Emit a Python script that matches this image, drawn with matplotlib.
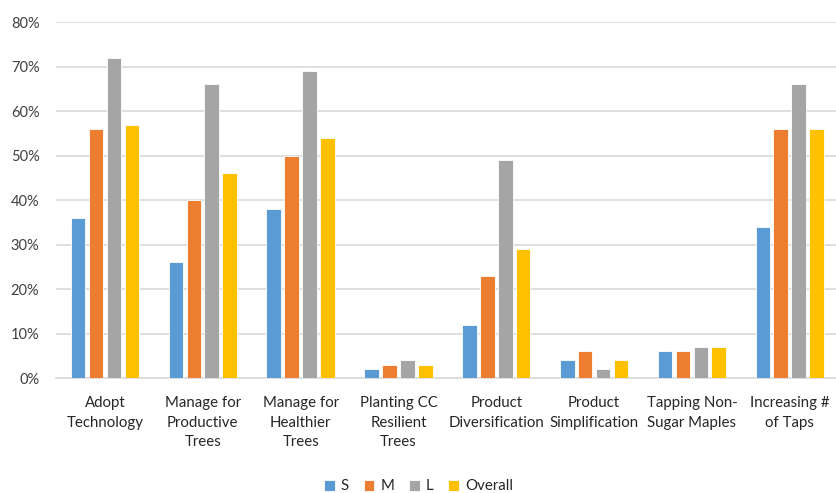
import numpy as np
import matplotlib.pyplot as plt
from matplotlib.ticker import PercentFormatter

plt.rcParams['font.family'] = ['Lato', 'DejaVu Sans']

categories = ["Adopt\nTechnology", "Manage for\nProductive\nTrees", "Manage for\nHealthier\nTrees",
              "Planting CC\nResilient\nTrees", "Product\nDiversification", "Product\nSimplification",
              "Tapping Non-\nSugar Maples", "Increasing #\nof Taps"]
series = ["S", "M", "L", "Overall"]
s_vals = [36, 26, 38, 2, 12, 4, 6, 34]
m_vals = [56, 40, 50, 3, 23, 6, 6, 56]
l_vals = [72, 66, 69, 4, 49, 2, 7, 66]
overall_vals = [57, 46, 54, 3, 29, 4, 7, 56]
colors = ["#5B9BD5", "#ED7D31", "#A5A5A5", "#FFC000"]

fig = plt.figure(figsize=(8.37, 4.93), dpi=100)
ax = fig.add_axes([0.067, 0.233, 0.935, 0.722])

x = np.arange(len(categories))
slot = 0.183
width = 0.15
for i, (name, vals) in enumerate(zip(series, [s_vals, m_vals, l_vals, overall_vals])):
    ax.bar(x + (i - 1.5) * slot, vals, width, color=colors[i], label=name,
           edgecolor="white", linewidth=0.6, zorder=3)

ax.set_xlim(-0.5, len(categories) - 0.5)
ax.set_ylim(0, 80)
ax.set_yticks(range(0, 81, 10))
ax.yaxis.set_major_formatter(PercentFormatter(decimals=0))
ax.set_xticks(x)
ax.set_xticklabels(categories, fontsize=10.8, color="#262626", linespacing=1.5)
ax.tick_params(axis="y", labelsize=10.5, labelcolor="#404040", length=0, pad=12)
ax.tick_params(axis="x", length=0, pad=13)
ax.grid(axis="y", color="#D9D9D9", linewidth=1.2, zorder=0)
for side in ["top", "right", "left"]:
    ax.spines[side].set_visible(False)
ax.spines["bottom"].set_color("#D9D9D9")
ax.spines["bottom"].set_linewidth(1.2)

fig.legend(loc="center", bbox_to_anchor=(0.5, 6.5 / 493), ncol=4, frameon=False,
           fontsize=10.8, handlelength=0.7, handleheight=0.7, handletextpad=0.4,
           columnspacing=1.0, labelcolor="#262626")

fig.savefig("out.png", dpi=100)
